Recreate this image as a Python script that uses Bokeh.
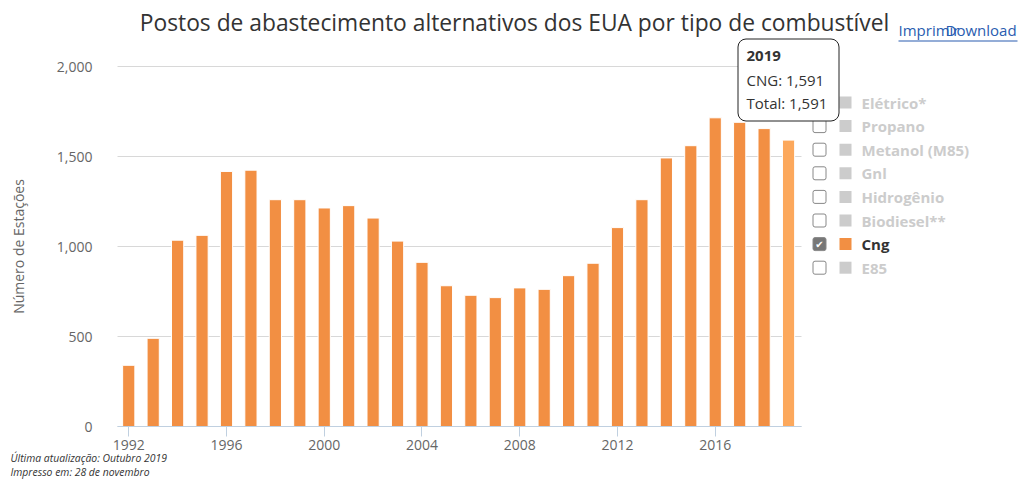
from bokeh.plotting import figure
from bokeh.models import Range1d, FixedTicker, Label, BoxAnnotation, NumeralTickFormatter, LinearAxis
from bokeh.embed import file_html
from bokeh.resources import INLINE

# ---------------- data ----------------
years = list(range(1992, 2020))
cng = [340, 490, 1035, 1062, 1417, 1424, 1260, 1260, 1214, 1227, 1158, 1030, 912, 782,
       729, 716, 770, 762, 838, 907, 1105, 1260, 1492, 1560, 1715, 1690, 1655, 1591]
x_tick_years = [1992, 1996, 2000, 2004, 2008, 2012, 2016]
y_ticks = [0, 500, 1000, 1500, 2000]
legend_names = ["Elétrico*", "Propano", "Metanol (M85)", "Gnl", "Hidrogênio",
                "Biodiesel**", "Cng", "E85"]
legend_active = [False, False, False, False, False, False, True, False]
title_text = "Postos de abastecimento alternativos dos EUA por tipo de combustível"
y_title = "Número de Estações"
tooltip_year = "2019"
tooltip_lines = ["CNG: 1,591", "Total: 1,591"]
footnotes = ["Última atualização: Outubro 2019", "Impresso em: 28 de novembro"]
links = ["Imprimir", "Download"]

# ---------------- style / geometry ----------------
FONT = "Open Sans"
BAR = "#f28f43"
BAR_HOVER = "#fca85c"
INACTIVE = "#cccccc"

W, H = 1018, 479          # canvas
OX, OY = 0, 0             # canvas offset in the page
PL, PR = 117, 801         # plot area left/right (page px)
PB, PT = 426, 66          # plot area bottom/top (page px)
X0, X1 = 1991.54, 2019.53
Y0, Y1 = 0, 2000
kx = (X1 - X0) / (PR - PL)
ky = (Y1 - Y0) / (PB - PT)


def dx(sx):
    return X0 + (sx - PL) * kx


def dy(sy):
    return Y0 + (PB - sy) * ky


p = figure(width=W, height=H, min_border=0,
           x_range=Range1d(dx(OX), dx(OX + W)), y_range=Range1d(dy(OY + H), dy(OY)),
           x_axis_location=None, y_axis_location=None,
           output_backend="svg", toolbar_location=None)
p.outline_line_color = None
p.background_fill_color = "white"
p.border_fill_color = "white"

colors = [BAR] * (len(years) - 1) + [BAR_HOVER]
p.vbar(x=years, top=cng, width=0.5, fill_color=colors, line_color="white", line_width=1)

# grid
p.xgrid.grid_line_color = None
g = p.ygrid[0]
g.grid_line_color = "#d8d8d8"
g.ticker = FixedTicker(ticks=y_ticks)
if "cross_bounds" in g.properties():
    g.cross_bounds = (X0, X1)

# axes (drawn at the plot-area edges)
xa = LinearAxis(fixed_location=Y0, bounds=(X0, X1),
                ticker=FixedTicker(ticks=x_tick_years))
xa.axis_line_color = "#c0d0e0"
xa.major_tick_line_color = "#c0d0e0"
xa.major_tick_out = 10
xa.major_tick_in = 0
xa.minor_tick_line_color = None
xa.major_label_standoff = 3
xa.major_label_text_color = "#666666"
xa.major_label_text_font = FONT
xa.major_label_text_font_size = "14px"
p.add_layout(xa, "below")

ya = LinearAxis(fixed_location=X0, bounds=(Y0, Y1),
                ticker=FixedTicker(ticks=y_ticks),
                formatter=NumeralTickFormatter(format="0,0"))
ya.axis_line_color = None
ya.major_tick_line_color = None
ya.minor_tick_line_color = None
ya.major_label_standoff = 19
ya.major_label_text_color = "#666666"
ya.major_label_text_font = FONT
ya.major_label_text_font_size = "14px"
ya.axis_label = y_title
ya.axis_label_text_font = FONT
ya.axis_label_text_font_size = "14px"
ya.axis_label_text_font_style = "normal"
ya.axis_label_text_color = "#666666"
ya.axis_label_standoff = 26
p.add_layout(ya, "left")


def text(sx, sy, t, size, color="#333333", style="normal", align="left",
         font=FONT, level="annotation"):
    p.add_layout(Label(x=dx(sx), y=dy(sy), text=t, text_font=font,
                       text_font_size=size, text_color=color, text_font_style=style,
                       text_align=align, text_baseline="middle", level=level))


def box(l, r, t, b, fill, line=None, radius=0, lw=1, level="annotation"):
    p.add_layout(BoxAnnotation(left=dx(l), right=dx(r), top=dy(t), bottom=dy(b),
                               fill_color=fill, fill_alpha=1, line_color=line,
                               line_width=lw, line_alpha=1, border_radius=radius,
                               level=level))


# title
text(514, 22, title_text, "22.8px", "#333333", align="center")

# links
text(898, 29, links[0], "15px", "#2a5db0")
text(945, 29, links[1], "15px", "#2a5db0")
box(898, 1017, 40, 41, "#2a5db0")

# legend
for i, (name, act) in enumerate(zip(legend_names, legend_active)):
    cy = 102 + i * 23.6
    box(812.5, 825.5, cy - 6.5, cy + 6.5, "#777777" if act else "white", "#888888", radius=2)
    if act:
        text(819, cy, "✔", "10px", "white", align="center", font="DejaVu Sans")
    box(839, 851, cy - 6, cy + 6, BAR if act else INACTIVE)
    text(861, cy, name, "15px", "#333333" if act else INACTIVE, style="bold")

# tooltip
box(737.5, 838.5, 38.5, 120.5, "white", "#222222", radius=8, level="overlay")
text(746, 55, tooltip_year, "15px", "#333333", style="bold", level="overlay")
text(746, 79, tooltip_lines[0], "15px", "#333333", level="overlay")
text(746, 102, tooltip_lines[1], "15px", "#333333", level="overlay")

# footnotes
text(10, 457, footnotes[0], "10.4px", "#333333", style="italic")
text(10, 471, footnotes[1], "10.4px", "#333333", style="italic")

open("out.html", "w").write(file_html(p, INLINE))
